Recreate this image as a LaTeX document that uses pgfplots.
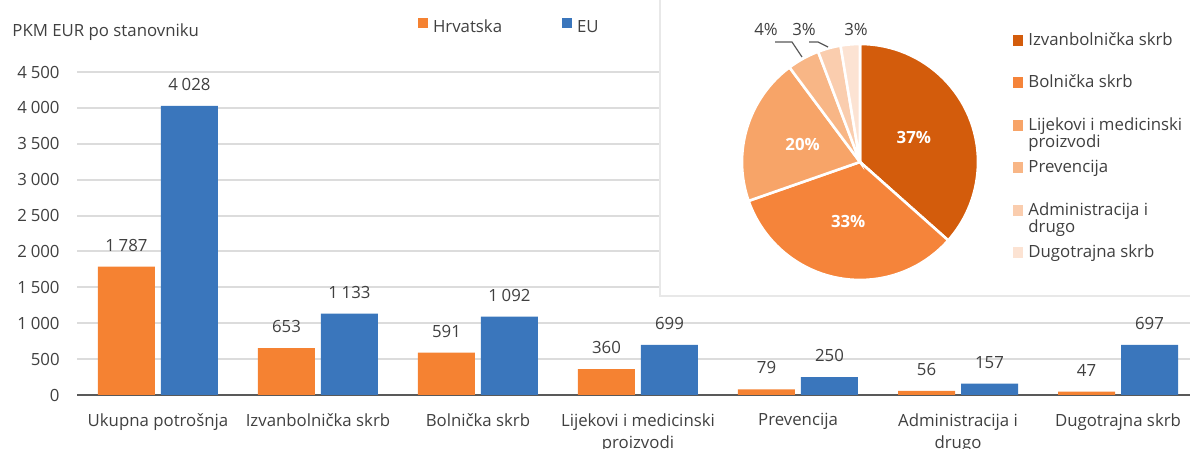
\documentclass[border=0pt]{standalone}
\usepackage{pgfplots}
\pgfplotsset{compat=1.18}
\usepackage{pgfplotstable}
\usepackage{fontspec}
\setmainfont{Open Sans}
\definecolor{hr}{HTML}{F58232}
\definecolor{eu}{HTML}{3A76BC}
\definecolor{txt}{HTML}{404040}
\definecolor{gridc}{HTML}{DCDCDC}
\definecolor{zeroc}{HTML}{595959}
\definecolor{boxc}{HTML}{E8E8E8}
\definecolor{pA}{HTML}{D35C0C}
\definecolor{pB}{HTML}{F5843A}
\definecolor{pC}{HTML}{F7A468}
\definecolor{pD}{HTML}{F8B686}
\definecolor{pE}{HTML}{FACDAE}
\definecolor{pF}{HTML}{FCE3D3}
\newcommand\fs{\fontsize{8.4}{10}\selectfont}

\pgfplotstableread{
x hr eu
0 1787 4028
1 653 1133
2 591 1092
3 360 699
4 79 250
5 56 157
6 47 697
}\bars

\begin{document}
\begin{tikzpicture}[x=1pt,y=1pt,font=\fs,text=txt]
\path[use as bounding box] (0,0) rectangle (595,224.5);
\begin{axis}[
  at={(38.5pt,27pt)}, anchor=south west, scale only axis,
  width=556.5pt, height=161.5pt,
  xmin=-0.506, xmax=6.45, ymin=0, ymax=4500,
  axis line style={draw=none},
  major tick length=0pt,
  ytick={500,1000,...,4500},
  extra y ticks={0},
  extra y tick style={ymajorgrids=true, grid style={draw=zeroc, line width=1pt}},
  ymajorgrids, grid style={draw=gridc, line width=1pt},
  xtick={0,...,6},
  xticklabels={Ukupna potrošnja, Izvanbolnička skrb, Bolnička skrb, {Lijekovi i medicinski\\proizvodi}, Prevencija, {Administracija i\\drugo}, Dugotrajna skrb},
  xticklabel style={align=center, font=\fontsize{8.4}{11}\selectfont, inner sep=0pt, anchor=north, yshift=-9pt, text=txt},
  yticklabel style={inner sep=0pt, anchor=east, xshift=-8.5pt, text=txt, font=\fs},
  /pgf/number format/1000 sep={\hspace{0.22em}},
  /pgf/number format/assume math mode=true,
  ybar=3pt, bar width=28.5pt,
  nodes near coords,
  every node near coord/.append style={font=\fs, text=txt, inner sep=0pt, yshift=7.5pt},
  legend columns=2,
  legend style={at={(0.30638,1.1115)}, anchor=south west, draw=none, fill=none, inner sep=0pt, outer sep=0pt,
    nodes={inner sep=0pt, text=txt, font=\fs},
    /tikz/every odd column/.append style={column sep=2.5pt}},
]
\addplot[fill=hr, draw=none, legend image code/.code={\fill[hr] (0pt,0pt) rectangle (5pt,5pt);}] table[x=x,y=hr]{\bars};
\addlegendentry{\makebox[64.5pt][l]{Hrvatska}}
\addplot[fill=eu, draw=none, legend image code/.code={\fill[eu] (0pt,0pt) rectangle (5pt,5pt);}] table[x=x,y=eu]{\bars};
\addlegendentry{EU}
\end{axis}
\node[anchor=base west, inner sep=0pt] at (6,206) {PKM EUR po stanovniku};
% inset panel
\fill[white] (330,76.5) rectangle (595,224.5);
\draw[boxc, line width=1pt] (330,224.5) -- (330,76.5) -- (595,76.5);
% pie
\pgfmathsetmacro\tot{653+591+360+79+56+47}
\pgfmathsetmacro\aO{90}
\pgfmathsetmacro\aA{\aO-360*(653/\tot)}
\pgfmathsetmacro\aB{\aA-360*(591/\tot)}
\pgfmathsetmacro\aC{\aB-360*(360/\tot)}
\pgfmathsetmacro\aD{\aC-360*(79/\tot)}
\pgfmathsetmacro\aE{\aD-360*(56/\tot)}
\pgfmathsetmacro\aF{\aE-360*(47/\tot)}
\begin{axis}[
  at={(430pt,143.5pt)}, anchor=center, scale only axis,
  width=118pt, height=118pt, xmin=-1, xmax=1, ymin=-1, ymax=1,
  hide axis, clip=false]
\fill[pA, draw=white, line width=1.3pt] (axis cs:0,0) -- ++(\aO:59pt) arc[start angle=\aO, end angle=\aA, radius=59pt] -- cycle;
\fill[pB, draw=white, line width=1.3pt] (axis cs:0,0) -- ++(\aA:59pt) arc[start angle=\aA, end angle=\aB, radius=59pt] -- cycle;
\fill[pC, draw=white, line width=1.3pt] (axis cs:0,0) -- ++(\aB:59pt) arc[start angle=\aB, end angle=\aC, radius=59pt] -- cycle;
\fill[pD, draw=white, line width=1.3pt] (axis cs:0,0) -- ++(\aC:59pt) arc[start angle=\aC, end angle=\aD, radius=59pt] -- cycle;
\fill[pE, draw=white, line width=1.3pt] (axis cs:0,0) -- ++(\aD:59pt) arc[start angle=\aD, end angle=\aE, radius=59pt] -- cycle;
\fill[pF, draw=white, line width=1.3pt] (axis cs:0,0) -- ++(\aE:59pt) arc[start angle=\aE, end angle=\aF, radius=59pt] -- cycle;
\path (axis cs:0,0) ++({(\aO+\aA)/2}:29.5pt) node[text=white, font=\bfseries\fs] {37\%};
\path (axis cs:0,0) ++({(\aA+\aB)/2}:30.5pt) node[text=white, font=\bfseries\fs] {33\%};
\path (axis cs:0,0) ++({(\aB+\aC)/2}:30pt) node[text=white, font=\bfseries\fs] {20\%};
\path (axis cs:0,0) ++(-47pt,66pt) node {4\%};
\path (axis cs:0,0) ++(-28pt,66pt) node {3\%};
\path (axis cs:0,0) ++(-2pt,66pt) node {3\%};
\draw[zeroc, line width=0.6pt] (axis cs:0,0) ++(-42.5pt,60pt) -- ++(8.5pt,0pt) -- ++(5pt,-7.5pt);
\draw[zeroc, line width=0.6pt] (axis cs:0,0) ++(-25.5pt,60pt) -- ++(4.5pt,0pt) -- ++(5pt,-2.5pt);
\end{axis}
% pie legend
\foreach \c/\y/\t in {pA/201.5/{Izvanbolnička skrb}, pB/180.5/{Bolnička skrb}, pC/159/{Lijekovi i medicinski}, pD/138/{Prevencija}, pE/116.5/{Administracija i}, pF/95.5/{Dugotrajna skrb}} {
  \fill[\c] (506.5,\y) rectangle (511.5,\y+5.5);
  \node[anchor=base west, inner sep=0pt] at (514,\y) {\t};
}
\node[anchor=base west, inner sep=0pt] at (514,150.5) {proizvodi};
\node[anchor=base west, inner sep=0pt] at (514,108) {drugo};
\end{tikzpicture}
\end{document}
